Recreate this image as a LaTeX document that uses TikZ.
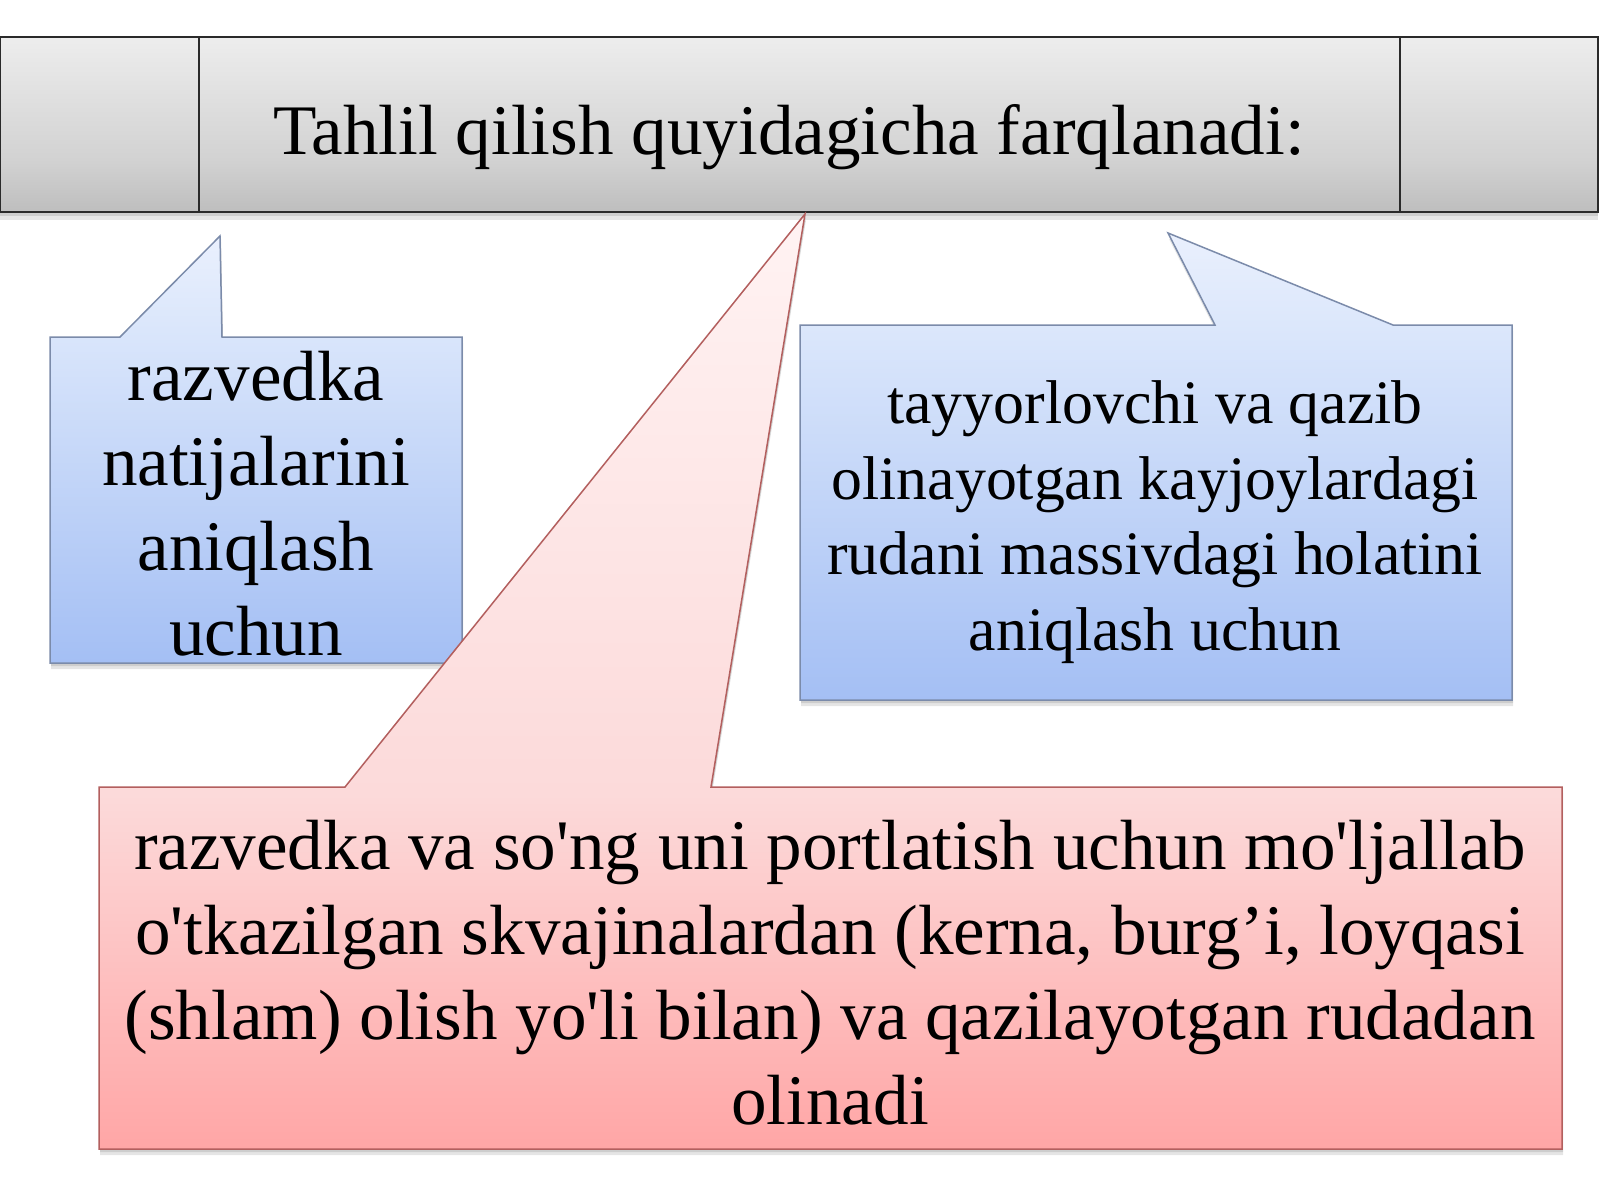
\documentclass[tikz,border=0pt]{standalone}
\usepackage{fontspec}
\setmainfont{Liberation Serif}[Ligatures=TeXOff]
\definecolor{grayT}{HTML}{EDEDED}
\definecolor{grayM}{HTML}{D2D2D2}
\definecolor{grayB}{HTML}{BEBEBE}
\definecolor{blueT}{HTML}{EAF0FD}
\definecolor{blueM}{HTML}{DAE6FB}
\definecolor{blueB}{HTML}{A4BFF4}
\definecolor{pinkT}{HTML}{FFF3F3}
\definecolor{pinkM}{HTML}{FCDADA}
\definecolor{pinkB}{HTML}{FFA6A6}
\definecolor{blueLine}{HTML}{7B8BAA}
\definecolor{pinkLine}{HTML}{B35F5E}
\definecolor{bannerLine}{HTML}{2A2A2A}
\pgfdeclareverticalshading{graygrad}{100bp}{color(0bp)=(grayB); color(25bp)=(grayB); color(40bp)=(grayM); color(75bp)=(grayT); color(100bp)=(grayT)}
\pgfdeclareverticalshading{bluegrad}{100bp}{color(0bp)=(blueB); color(25bp)=(blueB); color(64bp)=(blueM); color(75bp)=(blueT); color(100bp)=(blueT)}
\pgfdeclareverticalshading{pinkgrad}{100bp}{color(0bp)=(pinkB); color(25bp)=(pinkB); color(44bp)=(pinkM); color(75bp)=(pinkT); color(100bp)=(pinkT)}
\newcommand\bannershape{(0,37) rectangle (1598,212)}
\newcommand\leftshape{(50,337) -- (120,337) -- (220,236) -- (222,337) -- (462,337) -- (462,663) -- (50,663) -- cycle}
\newcommand\rightshape{(800,325) -- (1215,325) -- (1168,233) -- (1393,325) -- (1512,325) -- (1512,700) -- (800,700) -- cycle}
\newcommand\pinkshape{(99,787) -- (345,787) -- (805,214) -- (711,787) -- (1562,787) -- (1562,1149) -- (99,1149) -- cycle}
\tikzset{
  softshadow/.style={fill=black, opacity=0.10},
  bigtext/.style={inner sep=0pt, align=center, anchor=base, font=\fontsize{35.55}{42.5}\selectfont},
  midtext/.style={inner sep=0pt, align=center, anchor=base, font=\fontsize{30.9}{37.7}\selectfont},
}
\begin{document}
\begin{tikzpicture}[x=0.5pt, y=-0.5pt]
\useasboundingbox (0,0) rectangle (1600,1200);
\fill[white] (0,0) rectangle (1600,1200);
% banner
\fill[softshadow, shift={(0,4)}] \bannershape;
\fill[softshadow, shift={(0,8)}] \bannershape;
\path[shading=graygrad, draw=bannerLine, line width=1pt] \bannershape;
\draw[bannerLine, line width=1pt] (199,37) -- (199,212);
\draw[bannerLine, line width=1pt] (1400,37) -- (1400,212);
\node[bigtext] (title) at (789,154) {Tahlil qilish quyidagicha farqlanadi:};
% left callout
\fill[softshadow, shift={(1,3)}] \leftshape;
\fill[softshadow, shift={(1,6)}] \leftshape;
\path[shading=bluegrad, draw=blueLine, line width=0.75pt] \leftshape;
% right callout
\fill[softshadow, shift={(1,3)}] \rightshape;
\fill[softshadow, shift={(1,6)}] \rightshape;
\path[shading=bluegrad, draw=blueLine, line width=0.75pt] \rightshape;
% pink callout
\fill[softshadow, shift={(1,3)}] \pinkshape;
\fill[softshadow, shift={(1,6)}] \pinkshape;
\path[shading=pinkgrad, draw=pinkLine, line width=0.75pt] \pinkshape;
% texts (base anchor = baseline of the last line)
\node[bigtext] (lt) at (256,655) {razvedka\\natijalarini\\aniqlash\\uchun};
\node[midtext] (rt) at (1155,650) {tayyorlovchi va qazib\\olinayotgan kayjoylardagi\\rudani massivdagi holatini\\aniqlash uchun};
\node[bigtext] (bt) at (830,1124) {razvedka va so'ng uni portlatish uchun mo'ljallab\\o'tkazilgan skvajinalardan (kerna, burg’i, loyqasi\\(shlam) olish yo'li bilan) va qazilayotgan rudadan\\olinadi};
\end{tikzpicture}
\end{document}
